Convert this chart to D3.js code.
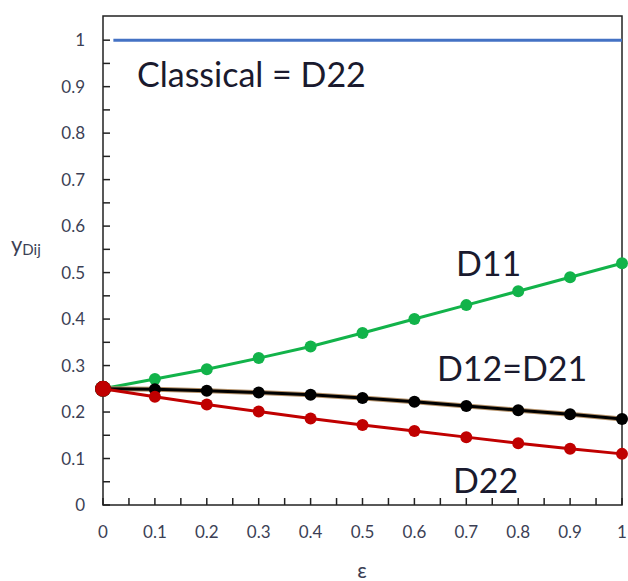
<!DOCTYPE html>
<html>
<head>
<meta charset="utf-8">
<script src="https://cdn.jsdelivr.net/npm/d3@7"></script>
<style>
  body { margin: 0; background: #fff; }
  text { font-family: Lato, "Open Sans", sans-serif; }
</style>
</head>
<body>
<div id="chart"></div>
<script>
const eps = [0, 0.1, 0.2, 0.3, 0.4, 0.5, 0.6, 0.7, 0.8, 0.9, 1];
const d11 = [0.25, 0.271, 0.292, 0.316, 0.341, 0.37, 0.40, 0.43, 0.46, 0.49, 0.52];
const d12 = [0.25, 0.249, 0.246, 0.242, 0.237, 0.23, 0.222, 0.213, 0.204, 0.195, 0.185];
const d22 = [0.25, 0.233, 0.216, 0.201, 0.186, 0.172, 0.159, 0.146, 0.133, 0.121, 0.11];
const classical = [1, 1];
const classicalX = [0.02, 1];
const yTicks = [0, 0.1, 0.2, 0.3, 0.4, 0.5, 0.6, 0.7, 0.8, 0.9, 1];
const xTicks = [0, 0.1, 0.2, 0.3, 0.4, 0.5, 0.6, 0.7, 0.8, 0.9, 1];

const W = 628, H = 581;
const margin = {top: 16, right: 6, bottom: 76, left: 103};
const width = W - margin.left - margin.right,
      height = H - margin.top - margin.bottom;

const svg = d3.select("#chart").append("svg")
    .attr("width", W).attr("height", H);
const g = svg.append("g").attr("transform", `translate(${margin.left},${margin.top})`);

let x = d3.scaleLinear().domain([0, 1]).range([0, width]);
let y = d3.scaleLinear().domain([0, 1.052]).range([height, 0]);

const tickColor = "#3c3f55";

// frame
g.append("rect")
    .attr("width", width).attr("height", height)
    .attr("fill", "none").attr("stroke", "#222").attr("stroke-width", 1.5);

// minor ticks
const minor = d3.range(0.05, 1.0001, 0.1);
g.append("g").selectAll("line").data(yTicks.concat(minor)).join("line")
    .attr("x1", 0).attr("x2", 7)
    .attr("y1", d => y(d)).attr("y2", d => y(d))
    .attr("stroke", "#222").attr("stroke-width", 1.5);
g.append("g").selectAll("line").data(xTicks.concat(minor)).join("line")
    .attr("x1", d => x(d)).attr("x2", d => x(d))
    .attr("y1", height).attr("y2", height - 7)
    .attr("stroke", "#222").attr("stroke-width", 1.5);

// tick labels
g.append("g").selectAll("text").data(yTicks).join("text")
    .attr("x", -18).attr("y", d => y(d)).attr("dy", "0.36em")
    .attr("text-anchor", "end").attr("font-size", 17).attr("fill", tickColor)
    .text(d => d);
g.append("g").selectAll("text").data(xTicks).join("text")
    .attr("x", d => x(d)).attr("y", height + 33)
    .attr("text-anchor", "middle").attr("font-size", 17).attr("fill", tickColor)
    .text(d => d);

// axis titles
const yl = svg.append("text").attr("x", 11).attr("y", 252)
    .attr("font-size", 22).attr("fill", tickColor);
yl.append("tspan").text("y");
yl.append("tspan").attr("font-size", 15).attr("dy", 3).text("Dij");
svg.append("text").attr("x", 362).attr("y", 578)
    .attr("text-anchor", "middle").attr("font-size", 21).attr("fill", tickColor)
    .text("ε");

let line = d3.line().x(d => x(d[0])).y(d => y(d[1]));

// classical line
g.append("path")
    .datum(classicalX.map((e, i) => [e, classical[i]]))
    .attr("d", line).attr("fill", "none")
    .attr("stroke", "#4472c4").attr("stroke-width", 3);

const series = [
  {vals: d11, color: "#12b34a", halo: null},
  {vals: d12, color: "#000", halo: "#b5926a"},
  {vals: d22, color: "#c00000", halo: null}
];

series.forEach(s => {
  const pts = eps.map((e, i) => [e, s.vals[i]]);
  if (s.halo) {
    g.append("path").datum(pts).attr("d", line).attr("fill", "none")
        .attr("stroke", s.halo).attr("stroke-width", 5);
  }
  g.append("path").datum(pts).attr("d", line).attr("fill", "none")
      .attr("stroke", s.color).attr("stroke-width", 3);
  g.append("g").selectAll("circle").data(pts).join("circle")
      .attr("cx", d => x(d[0])).attr("cy", d => y(d[1]))
      .attr("r", (d, i) => i === 0 ? 8 : 6)
      .attr("fill", s.color);
});

// annotations
const ann = [
  {t: "Classical = D22", x: 137, y: 87},
  {t: "D11", x: 456, y: 276},
  {t: "D12=D21", x: 437, y: 381},
  {t: "D22", x: 453, y: 493}
];
svg.append("g").selectAll("text").data(ann).join("text")
    .attr("x", d => d.x).attr("y", d => d.y)
    .attr("font-size", 34).attr("fill", "#1a1a2e")
    .text(d => d.t);
</script>
</body>
</html>
